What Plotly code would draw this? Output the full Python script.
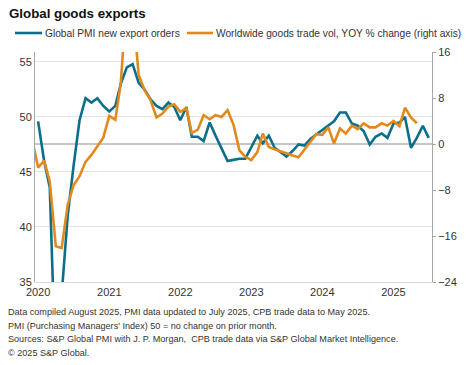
import plotly.graph_objects as go
import pandas as pd

# ---- data ----
pmi_months = pd.date_range("2020-01-01", "2025-07-01", freq="MS")
pmi_export_orders = [
    # 2020
    49.6, 46.0, 43.6, 26.5, 33.8, 41.0, 45.5, 49.7, 51.7, 51.3, 51.7, 51.0,
    # 2021
    50.5, 51.0, 53.0, 54.5, 54.8, 53.1, 52.5, 51.6, 51.0, 50.7, 51.3, 50.9,
    # 2022
    49.7, 50.9, 48.2, 48.2, 47.8, 49.5, 48.3, 47.1, 46.0, 46.1, 46.2, 46.2,
    # 2023
    47.2, 48.3, 47.6, 48.3, 47.2, 46.8, 46.4, 46.9, 47.5, 47.4, 48.0, 48.4,
    # 2024
    48.8, 49.2, 49.6, 50.4, 50.4, 49.4, 49.2, 48.7, 47.5, 48.2, 48.5, 48.1,
    # 2025
    49.4, 49.5, 50.0, 47.2, 48.1, 49.2, 48.1,
]

trade_months = pd.date_range("2019-12-01", "2025-05-01", freq="MS")
trade_yoy = [
    # Dec 2019
    0.9,
    # 2020
    -4.1, -2.9, -6.5, -17.8, -18.1, -10.6, -7.2, -5.6, -3.1, -1.9, -0.3, 1.1,
    # 2021
    4.9, 4.2, 10.6, 25.8, 24.0, 12.0, 9.4, 7.6, 4.6, 5.3, 6.5, 6.9,
    # 2022
    5.6, 6.2, 1.9, 2.5, 5.0, 4.3, 5.0, 4.7, 5.9, 3.4, -1.1, -2.2,
    # 2023
    -2.8, -1.4, 1.8, -0.5, -0.9, -1.3, -1.7, -2.0, -2.3, -1.0, 0.4, 1.7,
    # 2024
    1.6, 2.9, 0.1, 2.7, 1.8, 3.2, 2.6, 3.6, 2.9, 2.9, 3.6, 3.2,
    # 2025
    4.0, 3.1, 6.3, 4.6, 3.6,
]

left_ticks = [35, 40, 45, 50, 55]
right_ticks = [-24, -16, -8, 0, 8, 16]
year_ticks = ["2020-01-01", "2021-01-01", "2022-01-01", "2023-01-01", "2024-01-01", "2025-01-01"]
year_labels = ["2020", "2021", "2022", "2023", "2024", "2025"]

series_names = ["Global PMI new export orders",
                "Worldwide goods trade vol, YOY % change (right axis)"]
title_text = "<b>Global goods exports</b>"
footnotes = [
    "Data compiled August 2025, PMI data updated to July 2025, CPB trade data to May 2025.",
    "PMI (Purchasing Managers' Index) 50 = no change on prior month.",
    "Sources: S&P Global PMI with J. P. Morgan,  CPB trade data via S&P Global Market Intelligence.",
    "© 2025 S&P Global.",
]

BLUE = "#0B6E8B"
ORANGE = "#E3891C"
FONT = "Liberation Sans, Arial, sans-serif"
TXT = "#333333"

# plot-area geometry in pixels (for placing legend/notes in paper coords)
W, H = 466, 365
L, R, T, B = 35, 34, 52, 83
PW, PH = W - L - R, H - T - B


def px(xpix):
    return (xpix - L) / PW


def py(ypix):
    return (H - B - ypix) / PH


fig = go.Figure()
fig.add_trace(go.Scatter(
    x=pmi_months, y=pmi_export_orders, mode="lines", name=series_names[0],
    line=dict(color=BLUE, width=2.6), yaxis="y",
))
fig.add_trace(go.Scatter(
    x=trade_months, y=trade_yoy, mode="lines", name=series_names[1],
    line=dict(color=ORANGE, width=2.6), yaxis="y2",
))

shapes = [
    # zero line on the right axis
    dict(type="line", xref="paper", x0=0, x1=1, yref="y2", y0=0, y1=0,
         line=dict(color="#8c8c8c", width=1), layer="below"),
    # legend keys
    dict(type="line", xref="paper", yref="paper", x0=px(15), x1=px(42), y0=py(33), y1=py(33),
         line=dict(color=BLUE, width=2.6)),
    dict(type="line", xref="paper", yref="paper", x0=px(187), x1=px(213), y0=py(33), y1=py(33),
         line=dict(color=ORANGE, width=2.6)),
]

annotations = [
    dict(text=title_text, xref="paper", yref="paper", x=px(7), y=py(13),
         xanchor="left", yanchor="middle", showarrow=False,
         font=dict(size=13.3, color="#111111", family=FONT)),
    dict(text=series_names[0], xref="paper", yref="paper", x=px(43), y=py(33),
         xanchor="left", yanchor="middle", showarrow=False,
         font=dict(size=10.2, color=TXT, family=FONT)),
    dict(text=series_names[1], xref="paper", yref="paper", x=px(214), y=py(33),
         xanchor="left", yanchor="middle", showarrow=False,
         font=dict(size=10.2, color=TXT, family=FONT)),
]
for i, line in enumerate(footnotes):
    annotations.append(dict(
        text=line, xref="paper", yref="paper", x=px(6), y=py(312 + i * 13.6),
        xanchor="left", yanchor="middle", showarrow=False,
        font=dict(size=9.1, color=TXT, family=FONT)))

fig.update_layout(
    width=W, height=H,
    margin=dict(l=L, r=R, t=T, b=B, autoexpand=False),
    paper_bgcolor="white", plot_bgcolor="white",
    font=dict(family=FONT, size=11, color=TXT),
    showlegend=False,
    xaxis=dict(
        type="date", range=["2019-12-16", "2025-07-18"],
        tickvals=year_ticks, ticktext=year_labels, showgrid=False,
        showline=True, linecolor="#d9d9d9", linewidth=1,
        ticks="", tickfont=dict(size=11, color=TXT), zeroline=False,
    ),
    yaxis=dict(
        range=[35, 55.9], tickvals=left_ticks, showgrid=True, gridcolor="#e3e3e3",
        gridwidth=1, showline=True, linecolor="#a6a6a6", linewidth=1,
        ticks="", tickfont=dict(size=11, color=TXT), zeroline=False,
    ),
    yaxis2=dict(
        range=[-24, 16], tickvals=right_ticks, overlaying="y", side="right",
        showgrid=False, showline=True, linecolor="#a6a6a6", linewidth=1,
        ticks="outside", ticklen=3, tickcolor="#a6a6a6",
        tickfont=dict(size=11, color=TXT), zeroline=False,
    ),
    annotations=annotations,
    shapes=shapes,
)

fig.write_html(
    "out.html",
    config={"displayModeBar": False},
    post_script="document.body.style.margin='0px';document.body.style.padding='0px';",
)
